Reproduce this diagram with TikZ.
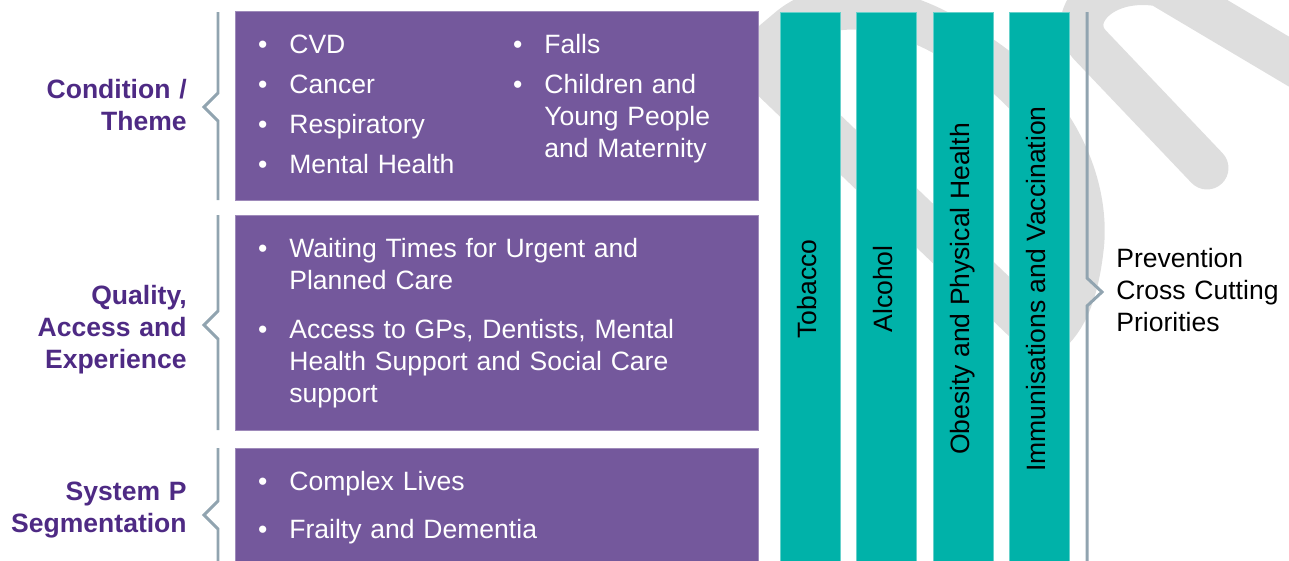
\documentclass[tikz,border=0pt]{standalone}
\usepackage{fontspec}
\setmainfont{Liberation Sans}
\definecolor{boxpurple}{RGB}{116,88,156}
\definecolor{labelpurple}{RGB}{78,42,132}
\definecolor{barteal}{RGB}{0,178,169}
\definecolor{markgrey}{RGB}{222,222,222}
\definecolor{bracegrey}{RGB}{145,164,176}
\newcommand{\prifont}{\fontsize{15.1}{18.4}\selectfont}
\newcommand{\itembullet}{\leavevmode\llap{\textbullet\hspace{0.44cm}}}

\begin{document}
\begin{tikzpicture}[x=0.02cm, y=-0.02cm,
        pbox/.style={fill=boxpurple, draw=boxpurple!70!white, line width=0.5pt,
                minimum width=10.46cm, inner sep=0pt},
        bar/.style={fill=barteal, draw=barteal!60!white, line width=0.5pt, rotate=90,
                minimum width=11.08cm, minimum height=1.2cm, inner sep=0pt,
                font=\prifont, text height=0.72em, text depth=0pt},
        item/.style={anchor=base west, inner sep=0pt, text width=9cm, align=left,
                text=white, font=\prifont},
        theme/.style={anchor=base east, inner sep=0pt, text width=3.7cm, align=right,
                text=labelpurple, font=\prifont\bfseries},
        brace/.style={draw=bracegrey, line width=1.7pt},
        wmark/.style={draw=markgrey, line width=0.86cm, line cap=round, line join=round}]
        \useasboundingbox (0,0) rectangle (1289,561);
        \clip (0,0) rectangle (1289,561);

        \draw[wmark] (1042,338) -- (752,60) -- (790,28) .. controls (830,-5) and (900,5) .. (960,44)
                .. controls (1060,100) and (1090,190) .. (1082,250)
                .. controls (1076,300) and (1062,326) .. cycle;
        \draw[wmark] (1207,168) -- (1090,45) .. controls (1065,18) and (1100,-25) .. (1160,-15)
                -- (1330,86);

        \node[pbox, minimum height=3.78cm] (condbox) at (496.5,105.5) {};
        \node[pbox, minimum height=4.3cm] (qualbox) at (496.5,322.5) {};
        \node[pbox, minimum height=2.64cm] (segbox) at (496.5,514) {};

        \foreach \x/\name/\txt in {810/tobacco/Tobacco, 886/alcohol/Alcohol,
                963/obesity/Obesity and Physical Health, 1039/immun/Immunisations and Vaccination}
                \node[bar] (\name) at (\x,289) {\txt};

        \foreach \top/\tip/\bot in {12/107/200, 215/325/430, 448/515/580}
                \draw[brace] (218,\top) -- (218,\tip-14) -- (204,\tip) -- (218,\tip+14) -- (218,\bot);
        \draw[brace] (1087,12) -- (1087,278) -- (1102,292) -- (1087,306) -- (1087,580);

        \node[theme] (condition) at (187,98) {Condition /\\Theme};
        \node[theme] (quality) at (187,304) {Quality,\\Access and\\Experience};
        \node[theme] (segment) at (187,500) {System P\\Segmentation};

        \node[item] (cvd) at (289,53) {\itembullet CVD};
        \node[item] (cancer) at (289,93) {\itembullet Cancer};
        \node[item] (resp) at (289,133) {\itembullet Respiratory};
        \node[item] (mental) at (289,173) {\itembullet Mental Health};
        \node[item] (falls) at (544,53) {\itembullet Falls};
        \node[item] (children) at (544,93) {\itembullet Children and\\Young People\\and Maternity};

        \node[item] (waiting) at (289,257) {\itembullet Waiting Times for Urgent and\\Planned Care};
        \node[item] (access) at (289,338) {\itembullet Access to GPs, Dentists, Mental\\Health Support and Social Care\\support};

        \node[item] (complex) at (289,490) {\itembullet Complex Lives};
        \node[item] (frailty) at (289,538) {\itembullet Frailty and Dementia};

        \node[anchor=base west, inner sep=0pt, text width=3.4cm, align=left, font=\prifont]
                (prevention) at (1116,267) {Prevention\\Cross Cutting\\Priorities};
\end{tikzpicture}
\end{document}
